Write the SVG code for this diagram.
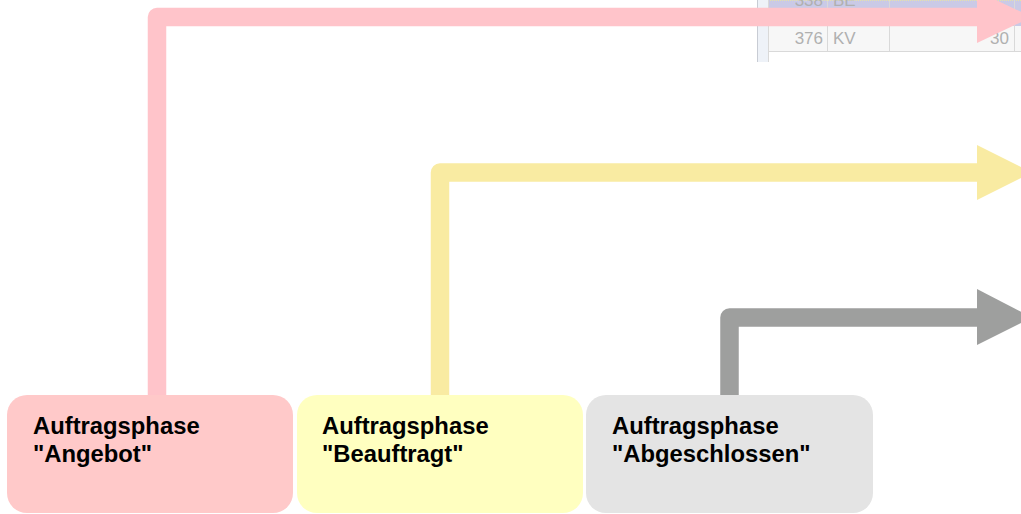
<svg xmlns="http://www.w3.org/2000/svg" width="1021" height="514" viewBox="0 0 1021 514">
  <style>
    .lbl { font-family: "Liberation Sans", Arial, sans-serif; font-weight: bold; font-size: 23.8px; fill: #000; }
    .tbl { font-family: "Liberation Sans", Arial, sans-serif; font-size: 17px; fill: #b0b0b0; }
    .grid { stroke: #d9d9d9; stroke-width: 1; fill: none; }
    .shaft { fill: none; stroke-width: 18.5; stroke-linejoin: round; }
  </style>
  <rect width="1021" height="514" fill="#ffffff"/>

  <!-- background table fragment (screenshot remnant) -->
  <g id="table-fragment">
    <rect x="757" y="0" width="11" height="62" fill="#eef2f8"/>
    <line x1="757.5" y1="0" x2="757.5" y2="62" stroke="#c8ccd4"/>
    <rect x="768" y="0" width="253" height="26" fill="#cacae6"/>
    <line x1="768" y1="0.5" x2="1021" y2="0.5" stroke="#e6e2a8" stroke-dasharray="1 1"/>
    <rect x="768" y="26" width="253" height="25" fill="#f7f7f7"/>
    <line class="grid" x1="768" y1="51.5" x2="1021" y2="51.5"/>
    <line class="grid" x1="768.5" y1="0" x2="768.5" y2="62"/>
    <line class="grid" x1="827.5" y1="0" x2="827.5" y2="51"/>
    <line class="grid" x1="889.5" y1="0" x2="889.5" y2="51"/>
    <line class="grid" x1="1014.5" y1="0" x2="1014.5" y2="51"/>
    <text class="tbl" x="823" y="6" text-anchor="end" fill="#a8a8c8">338</text>
    <text class="tbl" x="833" y="6" fill="#a8a8c8">BE</text>
    <text class="tbl" x="823" y="44" text-anchor="end">376</text>
    <text class="tbl" x="833" y="44">KV</text>
    <text class="tbl" x="1009" y="44" text-anchor="end">30</text>
  </g>

  <g id="connectors">
    <path class="shaft" stroke="#ffc4ca" d="M157,400 V17 H985"/>
    <polygon fill="#ffc4ca" points="977,-9 1032,17 977,43"/>
    <path class="shaft" stroke="#f9eba2" d="M440,400 V172.5 H985"/>
    <polygon fill="#f9eba2" points="977,145 1032,172.5 977,200"/>
    <path class="shaft" stroke="#9e9f9e" d="M729.5,400 V317.5 H985"/>
    <polygon fill="#9e9f9e" points="977,289 1032,317.5 977,345"/>
  </g>

  <g id="node-angebot">
    <rect x="7" y="395" width="286" height="118" rx="20" fill="#ffc9c9"/>
    <text class="lbl" x="33" y="434">Auftragsphase</text>
    <text class="lbl" x="33" y="462">"Angebot"</text>
  </g>
  <g id="node-beauftragt">
    <rect x="297" y="395" width="286" height="118" rx="20" fill="#ffffc0"/>
    <text class="lbl" x="322" y="434">Auftragsphase</text>
    <text class="lbl" x="322" y="462">"Beauftragt"</text>
  </g>
  <g id="node-abgeschlossen">
    <rect x="586" y="395" width="287" height="118" rx="20" fill="#e4e4e4"/>
    <text class="lbl" x="612" y="434">Auftragsphase</text>
    <text class="lbl" x="612" y="462">"Abgeschlossen"</text>
  </g>
</svg>
